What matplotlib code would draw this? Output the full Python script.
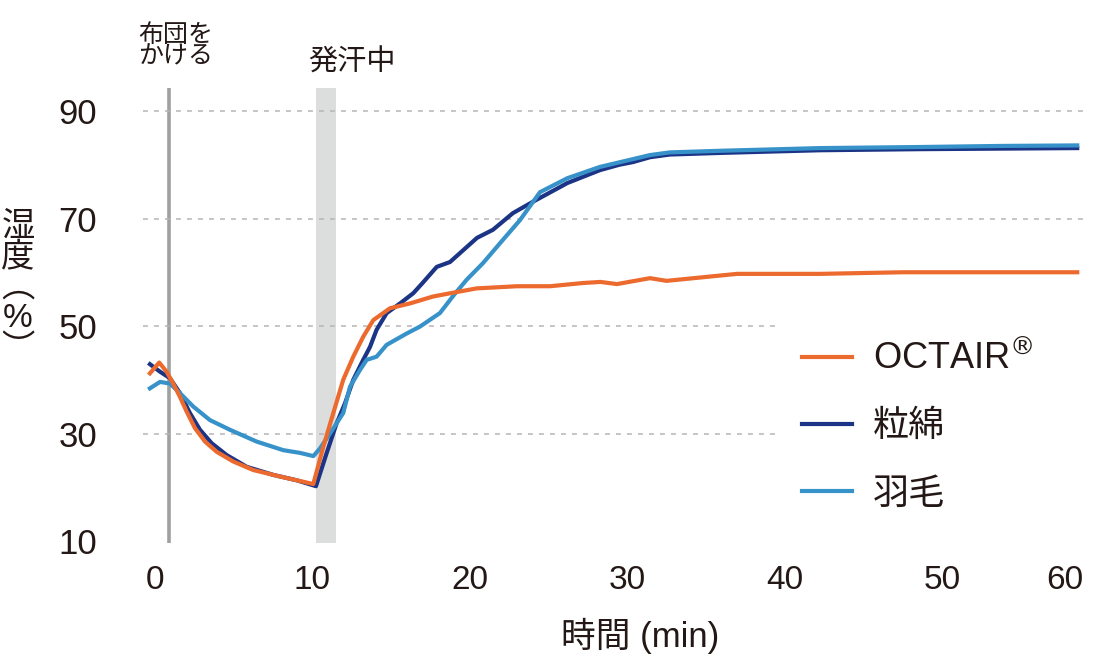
import numpy as np
import matplotlib
matplotlib.use("Agg")
import matplotlib.pyplot as plt

plt.rcParams['font.family'] = ['Liberation Sans', 'Noto Sans CJK JP', 'DejaVu Sans']
plt.rcParams['mathtext.fontset'] = 'dejavusans'

# ---------------- data ----------------
octair_t = [-0.32, 0.27, 0.74, 1.16, 1.59, 2.01, 2.54, 3.18, 3.92, 4.97, 6.25, 7.94, 10.06,
            10.69, 11.33, 11.96, 12.6, 13.23, 13.87, 14.93, 16.2, 17.68, 18.95, 20.44,
            23.0, 25.1, 27.2, 28.3, 29.35, 31.45, 32.5, 36.98, 42.25, 47.5, 53.7, 61.0]
octair_h = [41.2, 43.2, 41.5, 39.3, 36.8, 34.1, 31.0, 28.5, 26.6, 24.8, 23.2, 22.0, 20.6,
            27.5, 33.8, 40.0, 44.3, 48.0, 51.1, 53.3, 54.2, 55.5, 56.2, 57.0,
            57.4, 57.4, 58.0, 58.2, 57.8, 58.9, 58.4, 59.7, 59.7, 60.0, 60.0, 60.0]

cotton_t = [-0.32, 0.32, 0.95, 1.59, 2.22, 2.86, 3.6, 4.55, 5.83, 7.52, 9.0, 10.23,
            10.9, 11.54, 12.07, 12.6, 13.23, 13.66, 14.08, 14.72, 15.57, 16.41, 17.0,
            17.9, 18.74, 20.46, 21.47, 22.74, 24.0, 26.2, 28.27, 29.5, 30.37, 31.45,
            32.7, 35.9, 42.25, 48.6, 54.7, 61.0]
cotton_h = [42.9, 41.5, 40.3, 37.5, 33.8, 30.7, 28.2, 26.0, 23.8, 22.3, 21.3, 20.2,
            26.3, 31.9, 35.6, 40.0, 43.7, 46.1, 49.3, 52.4, 54.2, 56.1, 58.0,
            61.0, 61.9, 66.4, 67.9, 71.0, 73.1, 76.6, 79.0, 80.0, 80.5, 81.4,
            81.9, 82.2, 82.7, 82.9, 83.0, 83.1]

down_t = [-0.32, 0.32, 0.95, 1.59, 2.44, 3.49, 4.76, 6.46, 8.15, 9.21, 10.06, 10.48,
          11.12, 11.96, 12.39, 13.02, 13.45, 14.08, 14.72, 15.99, 16.84, 18.1, 19.0,
          19.8, 20.84, 21.92, 23.19, 24.46, 26.2, 28.27, 31.45, 32.7, 35.9, 42.25,
          48.6, 54.7, 61.0]
down_h = [38.4, 39.6, 39.3, 37.5, 35.0, 32.5, 30.7, 28.5, 26.9, 26.4, 25.8, 27.2,
          30.0, 33.8, 38.7, 41.8, 43.7, 44.3, 46.5, 48.6, 49.9, 52.4, 55.8,
          58.6, 61.7, 65.4, 69.7, 74.9, 77.5, 79.6, 81.8, 82.3, 82.6, 83.1,
          83.3, 83.5, 83.6]

series_labels = [r'OCTAIR$^{\circledR}$', '粒綿', '羽毛']
series_colors = ['#EC6A2E', '#1C3486', '#3792C9']

x_ticks = [0, 10, 20, 30, 40, 50, 60]
y_ticks = [10, 30, 50, 70, 90]
cover_time = 0.87          # 布団をかける
sweat_start, sweat_end = 10.23, 11.5   # 発汗中

TEXT = '#231815'

# ---------------- figure ----------------
fig = plt.figure(figsize=(11.2, 6.59), dpi=100)
ax = fig.add_axes([143/1120, 1-543/659, (1083-143)/1120, (543-88)/659])

K = 0.781
def fwd(x):
    x = np.asarray(x, dtype=float)
    return np.where(x <= 50, x, 50 + (x - 50) * K)
def inv(y):
    y = np.asarray(y, dtype=float)
    return np.where(y <= 50, y, 50 + (y - 50) / K)
ax.set_xscale('function', functions=(fwd, inv))
ax.set_xlim(-0.76, 61.47)
ax.set_ylim(9.63, 94.28)

# band & vertical line
ax.axvspan(sweat_start, sweat_end, color='#DCDDDD', lw=0, zorder=1)
ax.axvline(cover_time, color='#9FA0A0', lw=2.6, zorder=1.5)

# gridlines
for yv in y_ticks[1:]:
    xmax = 39.4 if yv in (30, 50) else 61.47
    ax.hlines(yv, -0.76, xmax, colors='#B5B5B6', lw=1.1,
              linestyles=(0, (3.2, 4.0)), zorder=2)

l_cot, = ax.plot(cotton_t, cotton_h, color=series_colors[1], lw=3, zorder=3,
                 label=series_labels[1], solid_joinstyle='round')
l_down, = ax.plot(down_t, down_h, color=series_colors[2], lw=3, zorder=4,
                  label=series_labels[2], solid_joinstyle='round')
l_oct, = ax.plot(octair_t, octair_h, color=series_colors[0], lw=3, zorder=5,
                 label=series_labels[0], solid_joinstyle='round')

for s in ax.spines.values():
    s.set_visible(False)
ax.set_xticks(x_ticks)
ax.set_xticklabels([str(v) for v in x_ticks])
ax.set_yticks(y_ticks)
ax.set_yticklabels([str(v) for v in y_ticks])
ax.tick_params(axis='both', length=0, colors=TEXT)
ax.tick_params(axis='x', labelsize=24, pad=16)
ax.tick_params(axis='y', labelsize=25, pad=33)
ax.minorticks_off()

leg = ax.legend(handles=[l_oct, l_cot, l_down], loc='upper left',
                bbox_to_anchor=(802/1120, 1-341/659), bbox_transform=fig.transFigure,
                frameon=False, fontsize=26, handlelength=1.38, handletextpad=0.58,
                labelspacing=0.89, borderpad=0, borderaxespad=0)
for t in leg.get_texts():
    t.set_color(TEXT)

# annotations
fig.text(176/1120, 1-46/659, '布団を\nかける', ha='center', va='center',
         fontsize=18, linespacing=0.85, color=TEXT)
fig.text(352/1120, 1-63/659, '発汗中', ha='center', va='center',
         fontsize=21, color=TEXT)

# y label (vertical stacked): 湿度︵%︶ as one text block
fig.text(18/1120, 1-288/659, '湿\n度\n︵\n%\n︶', ha='center', va='center',
         multialignment='center', fontsize=24, linespacing=0.98, color=TEXT)

# x label
fig.text(640/1120, 1-636/659, '時間 (min)', ha='center', va='center',
         fontsize=25, color=TEXT)

fig.savefig('out.png', dpi=100)
